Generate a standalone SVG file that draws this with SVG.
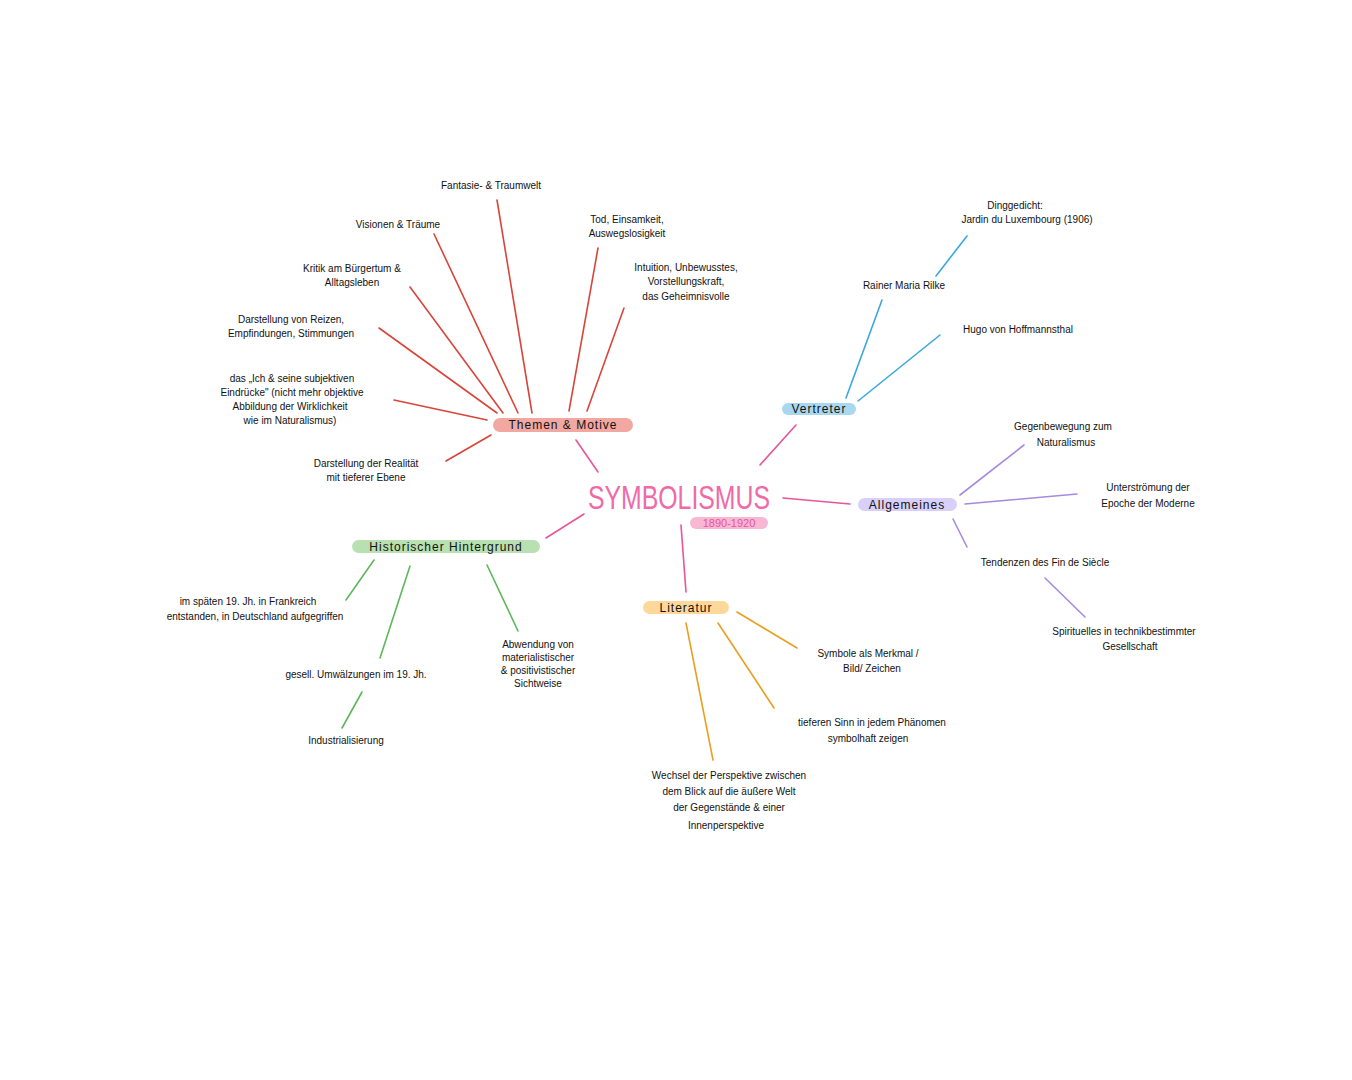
<svg xmlns="http://www.w3.org/2000/svg" width="1352" height="1080" viewBox="0 0 1352 1080">
<style>
text{font-family:"Liberation Sans",Arial,sans-serif;font-size:10px;fill:#111;text-anchor:middle}
.h{font-size:12px;letter-spacing:1px}
.r{stroke:#d8453a;stroke-width:1.6}
.p{stroke:#e8559a;stroke-width:1.6}
.b{stroke:#3aa8dc;stroke-width:1.6}
.v{stroke:#a78ae0;stroke-width:1.6}
.g{stroke:#5cb85a;stroke-width:1.6}
.o{stroke:#e8a020;stroke-width:1.6}
</style>
<rect width="1352" height="1080" fill="#fff"/>
<g id="connectors" fill="none" stroke-linecap="round">
<line class="p" x1="576" y1="440" x2="598" y2="472"/>
<line class="p" x1="760" y1="465" x2="796" y2="425"/>
<line class="p" x1="783" y1="498" x2="850" y2="504"/>
<line class="p" x1="546" y1="538" x2="584" y2="514"/>
<line class="p" x1="681" y1="525" x2="686" y2="592"/>
<line class="r" x1="497" y1="200" x2="532" y2="413"/>
<line class="r" x1="434" y1="234" x2="518" y2="413"/>
<line class="r" x1="410" y1="287" x2="503" y2="413"/>
<line class="r" x1="379" y1="328" x2="497" y2="413"/>
<line class="r" x1="394" y1="400" x2="487" y2="420"/>
<line class="r" x1="446" y1="461" x2="491" y2="435"/>
<line class="r" x1="598" y1="248" x2="569" y2="411"/>
<line class="r" x1="624" y1="308" x2="587" y2="411"/>
<line class="b" x1="846" y1="398" x2="882" y2="300"/>
<line class="b" x1="858" y1="401" x2="940" y2="335"/>
<line class="b" x1="936" y1="276" x2="967" y2="236"/>
<line class="v" x1="960" y1="495" x2="1024" y2="445"/>
<line class="v" x1="965" y1="504" x2="1077" y2="494"/>
<line class="v" x1="953" y1="519" x2="967" y2="547"/>
<line class="v" x1="1045" y1="578" x2="1085" y2="617"/>
<line class="g" x1="374" y1="560" x2="346" y2="600"/>
<line class="g" x1="410" y1="566" x2="380" y2="658"/>
<line class="g" x1="487" y1="565" x2="518" y2="631"/>
<line class="g" x1="362" y1="692" x2="342" y2="728"/>
<line class="o" x1="737" y1="612" x2="797" y2="648"/>
<line class="o" x1="718" y1="623" x2="774" y2="708"/>
<line class="o" x1="686" y1="623" x2="713" y2="760"/>
</g>
<g id="center">
<text x="679" y="509" textLength="182" lengthAdjust="spacingAndGlyphs" style="font-size:33px;fill:#f06aa8">SYMBOLISMUS</text>
<rect x="690" y="517" width="78" height="12" rx="6" fill="#f8b8d4"/>
<text x="729" y="527" style="fill:#e8559a;font-size:11px">1890-1920</text>
</g>
<g id="themen">
<rect x="493" y="418" width="140" height="14" rx="7" fill="#f2a8a0"/>
<text class="h" x="563" y="429">Themen &amp; Motive</text>
</g>
<g id="themen-items">
<text x="491" y="189">Fantasie- &amp; Traumwelt</text>
<text x="398" y="228">Visionen &amp; Träume</text>
<text x="352" y="272">Kritik am Bürgertum &amp;</text>
<text x="352" y="286">Alltagsleben</text>
<text x="291" y="323">Darstellung von Reizen,</text>
<text x="291" y="337">Empfindungen, Stimmungen</text>
<text x="292" y="382">das „Ich &amp; seine subjektiven</text>
<text x="292" y="396">Eindrücke" (nicht mehr objektive</text>
<text x="290" y="410">Abbildung der Wirklichkeit</text>
<text x="290" y="424">wie im Naturalismus)</text>
<text x="366" y="467">Darstellung der Realität</text>
<text x="366" y="481">mit tieferer Ebene</text>
<text x="627" y="223">Tod, Einsamkeit,</text>
<text x="627" y="237">Auswegslosigkeit</text>
<text x="686" y="271">Intuition, Unbewusstes,</text>
<text x="686" y="285">Vorstellungskraft,</text>
<text x="686" y="300">das Geheimnisvolle</text>
</g>
<g id="vertreter">
<rect x="782" y="403" width="74" height="12" rx="6" fill="#a8d8f0"/>
<text class="h" x="819" y="413">Vertreter</text>
<text x="1015" y="209">Dinggedicht:</text>
<text x="1027" y="223">Jardin du Luxembourg (1906)</text>
<text x="904" y="289">Rainer Maria Rilke</text>
<text x="1018" y="333">Hugo von Hoffmannsthal</text>
</g>
<g id="allgemeines">
<rect x="858" y="498" width="99" height="13" rx="6.5" fill="#d8d0f8"/>
<text class="h" x="907" y="509">Allgemeines</text>
<text x="1063" y="430">Gegenbewegung zum</text>
<text x="1066" y="446">Naturalismus</text>
<text x="1148" y="491">Unterströmung der</text>
<text x="1148" y="507">Epoche der Moderne</text>
<text x="1045" y="566">Tendenzen des Fin de Siècle</text>
<text x="1124" y="635">Spirituelles in technikbestimmter</text>
<text x="1130" y="650">Gesellschaft</text>
</g>
<g id="historisch">
<rect x="352" y="540" width="188" height="13" rx="6.5" fill="#b8e0b0"/>
<text class="h" x="446" y="551">Historischer Hintergrund</text>
<text x="248" y="605">im späten 19. Jh. in Frankreich</text>
<text x="255" y="620">entstanden, in Deutschland aufgegriffen</text>
<text x="356" y="678">gesell. Umwälzungen im 19. Jh.</text>
<text x="346" y="744">Industrialisierung</text>
<text x="538" y="648">Abwendung von</text>
<text x="538" y="661">materialistischer</text>
<text x="538" y="674">&amp; positivistischer</text>
<text x="538" y="687">Sichtweise</text>
</g>
<g id="literatur">
<rect x="643" y="601" width="86" height="13" rx="6.5" fill="#fcd89a"/>
<text class="h" x="686" y="612">Literatur</text>
<text x="868" y="657">Symbole als Merkmal /</text>
<text x="872" y="672">Bild/ Zeichen</text>
<text x="872" y="726">tieferen Sinn in jedem Phänomen</text>
<text x="868" y="742">symbolhaft zeigen</text>
<text x="729" y="779">Wechsel der Perspektive zwischen</text>
<text x="729" y="795">dem Blick auf die äußere Welt</text>
<text x="729" y="811">der Gegenstände &amp; einer</text>
<text x="726" y="829">Innenperspektive</text>
</g>
</svg>
